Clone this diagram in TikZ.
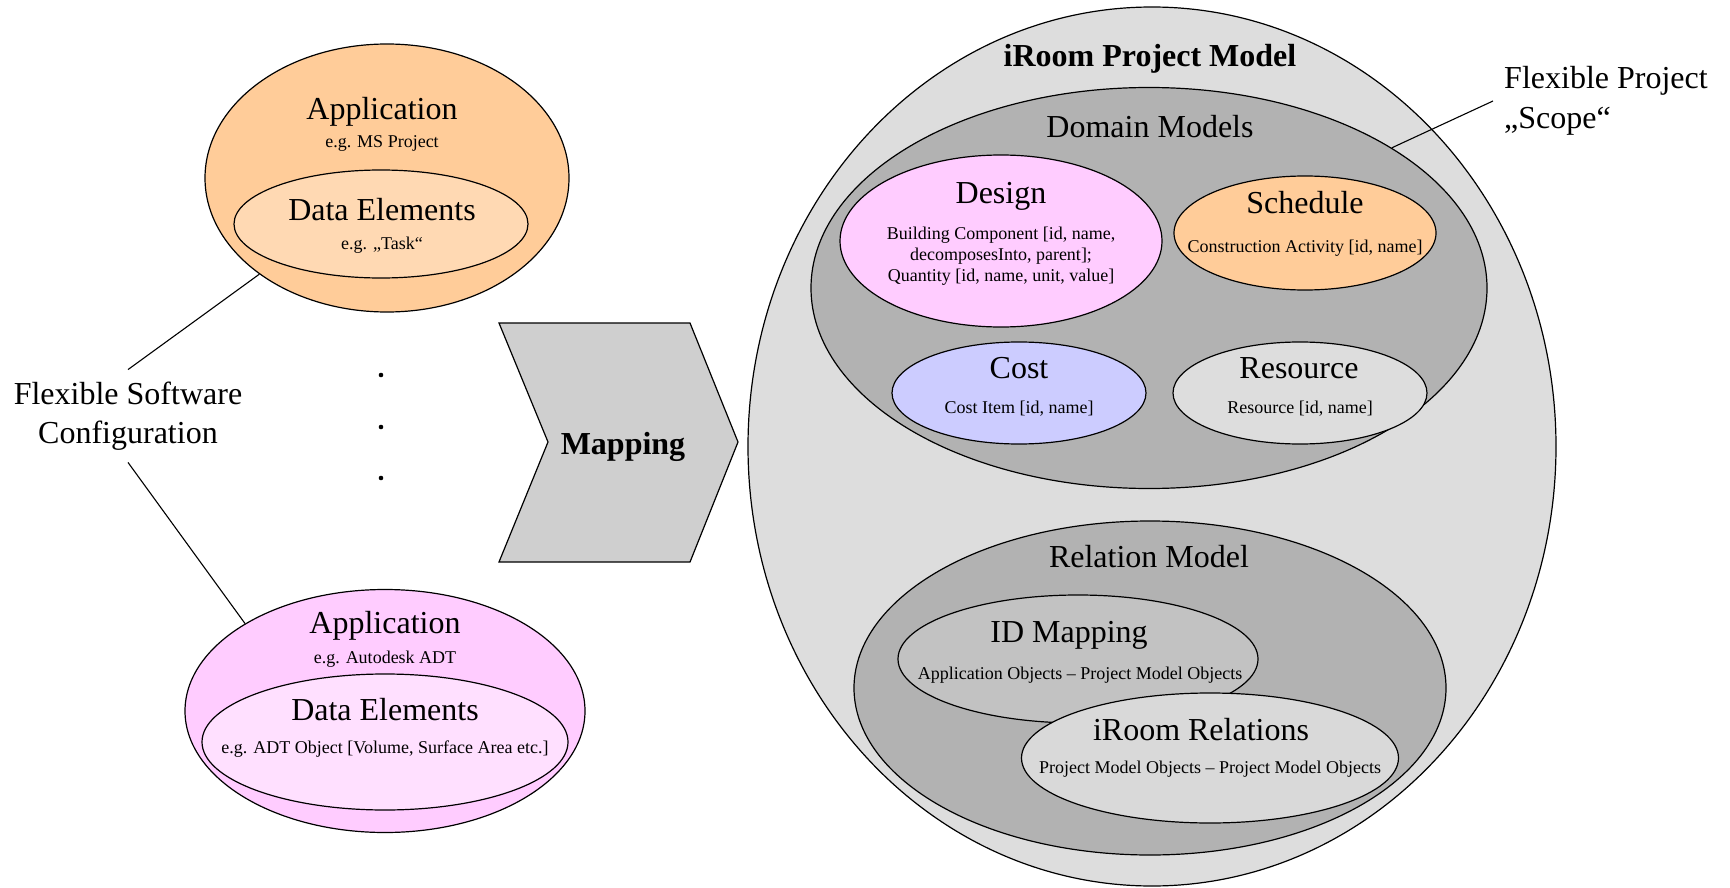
\documentclass[tikz,border=0pt]{standalone}
\usepackage{fontspec}
\setmainfont{Liberation Serif}
\usetikzlibrary{shapes.geometric}
\definecolor{orangeA}{HTML}{FFCC99}
\definecolor{orangeB}{HTML}{FFD9B3}
\definecolor{pinkA}{HTML}{FFCCFF}
\definecolor{pinkB}{HTML}{FFE0FF}
\definecolor{lilac}{HTML}{CCCCFF}
\definecolor{greyA}{HTML}{DDDDDD}
\definecolor{greyB}{HTML}{B2B2B2}
\definecolor{greyC}{HTML}{C2C2C2}
\definecolor{greyD}{HTML}{D9D9D9}
\definecolor{greyM}{HTML}{CFCFCF}
\begin{document}
\begin{tikzpicture}[x=1pt,y=-1pt,
  bubble/.style={ellipse, draw=black, line width=1.2pt, inner sep=0pt},
  big/.style={font=\fontsize{32}{39}\selectfont, anchor=base, inner sep=0pt},
  bigbold/.style={font=\fontsize{32}{39}\selectfont\bfseries, anchor=base, inner sep=0pt},
  small/.style={font=\fontsize{18}{21}\selectfont, anchor=base, inner sep=0pt},
  link/.style={draw=black, line width=1.1pt}]
\useasboundingbox (0,0) rectangle (1730,888);

% ---- left: application configurations ----
\node[bubble, fill=orangeA, minimum width=364, minimum height=268] (appA) at (387,178) {};
\node[bubble, fill=orangeB, minimum width=294, minimum height=108] (dataA) at (381,224) {};
\node[big]   (appAt)  at (382,120) {Application};
\node[small] (appAs)  at (382,148) {e.g. MS Project};
\node[big]   (dataAt) at (382,220) {Data Elements};
\node[small] (dataAs) at (382,249) {e.g. „Task“};

\node[bubble, fill=pinkA, minimum width=400, minimum height=243] (appB) at (385,711) {};
\node[bubble, fill=pinkB, minimum width=366, minimum height=136] (dataB) at (385,742) {};
\node[big]   (appBt)  at (385,633) {Application};
\node[small] (appBs)  at (385,663) {e.g. Autodesk ADT};
\node[big]   (dataBt) at (385,720) {Data Elements};
\node[small] (dataBs) at (385,753) {e.g. ADT Object [Volume, Surface Area etc.]};

% continuation dots
\fill (381,375) circle (2.3pt);
\fill (381,427) circle (2.3pt);
\fill (381,478) circle (2.3pt);

% label with its two leader lines
\node[font=\fontsize{32}{39}\selectfont, align=center, inner xsep=0pt, inner ysep=12pt]
  (fsc) at (128,416) {Flexible Software\\Configuration};
\draw[link] (fsc.north) -- (appA.217);
\draw[link] (fsc.south) -- (appB.148);

% ---- mapping chevron ----
\draw[fill=greyM, line width=1.2pt]
  (499,323) -- (690,323) -- (738,442) -- (690,562) -- (499,562) -- (548,442) -- cycle;
\node[bigbold] (map) at (623,454) {Mapping};

% ---- right: project model ----
\node[bubble, fill=greyA, minimum width=808, minimum height=879] (pm) at (1152,446.5) {};
\node[bigbold] (pmt) at (1150,67) {iRoom Project Model};

\node[bubble, fill=greyB, minimum width=676, minimum height=401] (dom) at (1149,288) {};
\node[big] (domt) at (1150,138) {Domain Models};

\node[bubble, fill=pinkA, minimum width=322, minimum height=172] (des) at (1001,241) {};
\node[big]   (dest)  at (1001,203) {Design};
\node[small] (desa)  at (1001,239) {Building Component [id, name,};
\node[small] (desb)  at (1001,260) {decomposesInto, parent];};
\node[small] (desc)  at (1001,281) {Quantity [id, name, unit, value]};

\node[bubble, fill=orangeA, minimum width=262, minimum height=114] (sch) at (1305,233) {};
\node[big]   (scht) at (1305,213) {Schedule};
\node[small] (schs) at (1305,252) {Construction Activity [id, name]};

\node[bubble, fill=lilac, minimum width=254, minimum height=102] (cost) at (1019,393) {};
\node[big]   (costt) at (1019,378) {Cost};
\node[small] (costs) at (1019,413) {Cost Item [id, name]};

\node[bubble, fill=greyA, minimum width=254, minimum height=102] (res) at (1300,393) {};
\node[big]   (rest) at (1299,378) {Resource};
\node[small] (ress) at (1300,413) {Resource [id, name]};

\node[bubble, fill=greyB, minimum width=592, minimum height=334] (rel) at (1150,688) {};
\node[big] (relt) at (1149,567) {Relation Model};

\node[bubble, fill=greyC, minimum width=360, minimum height=128] (idm) at (1078,659) {};
\node[big]   (idmt) at (1069,642) {ID Mapping};
\node[small] (idms) at (1080,679) {Application Objects – Project Model Objects};

\node[bubble, fill=greyD, minimum width=377, minimum height=130] (irr) at (1210,758) {};
\node[big]   (irrt) at (1201,740) {iRoom Relations};
\node[small] (irrs) at (1210,773) {Project Model Objects – Project Model Objects};

% scope label with its leader line
\node[font=\fontsize{32}{40}\selectfont, align=left, anchor=west, inner xsep=11pt, inner ysep=0pt]
  (fps) at (1493,101) {Flexible Project\\„Scope“};
\draw[link] (fps.west) -- (dom.30);
\end{tikzpicture}
\end{document}
